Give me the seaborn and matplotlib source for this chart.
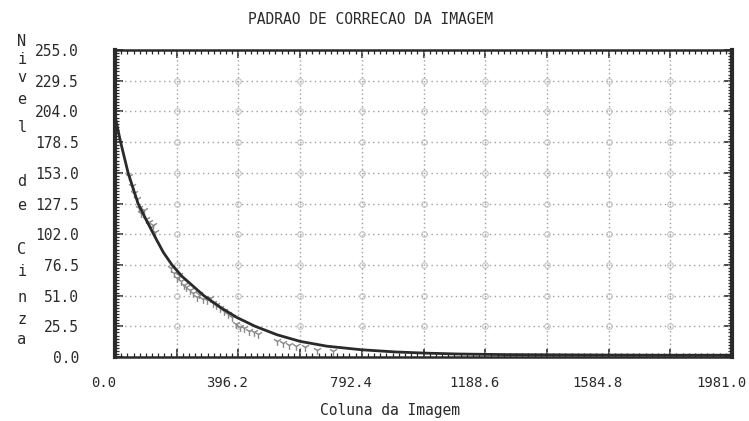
import numpy as np
import pandas as pd
import matplotlib
matplotlib.use("Agg")
import matplotlib.pyplot as plt
import matplotlib.transforms as mtransforms
from matplotlib.ticker import MultipleLocator, FixedLocator, FixedFormatter
import seaborn as sns

# Fitted correction curve (column -> grey level)
curve_x = [0, 18, 42, 74, 100, 128, 155, 183, 215, 250, 285, 340, 390, 450,
           520, 594, 680, 792, 900, 1000, 1100, 1250, 1500, 1750, 1981]
curve_y = [200, 178.5, 153, 127.5, 114, 100, 87, 76.5, 67, 59, 51, 41, 33, 25.5,
           18.5, 13, 9, 6, 4.2, 3.2, 2.5, 2.0, 1.7, 1.5, 1.5]

# Measured samples along the image columns
sample_x = [45, 55, 62, 70, 78, 85, 92, 100, 108, 115, 122, 130,
            180, 190, 198, 205, 212, 220, 228, 240, 250, 262, 270, 282, 295,
            305, 315, 325, 338, 350, 362, 375,
            390, 402, 415, 430, 445, 460,
            520, 540, 560, 580, 610, 650, 700]
sample_y = [150, 142, 136, 131, 124, 120, 122, 115, 112, 108, 110, 104,
            74, 70, 66, 68, 63, 60, 58, 56, 53, 50, 52, 48, 47,
            49, 45, 43, 41, 38, 36, 33,
            27, 25, 24, 22, 21, 19,
            13, 12, 10, 9, 8, 6, 5]

x_ticks = [0.0, 396.2, 792.4, 1188.6, 1584.8, 1981.0]
y_ticks = [0.0, 25.5, 51.0, 76.5, 102.0, 127.5, 153.0, 178.5, 204.0, 229.5, 255.0]
x_tick_labels = ["0.0", "396.2", "792.4", "1188.6", "1584.8", "1981.0"]
y_tick_labels = ["0.0", "25.5", "51.0", "76.5", "102.0", "127.5",
                 "153.0", "178.5", "204.0", "229.5", "255.0"]
ylabel_letters = ["N", "i", "v", "e", "l", "d", "e", "C", "i", "n", "z", "a"]
ylabel_rows = [42, 60, 78, 100, 127, 182, 205, 250, 272, 298, 320, 340]

sns.set_style("white")
plt.rcParams["font.family"] = ["DejaVu Sans Mono"]
ink = "#2a2a2a"

W, H = 749, 421
fig = plt.figure(figsize=(W / 100, H / 100), dpi=100)
ax = fig.add_axes([115 / W, (H - 357) / H, (732 - 115) / W, (357 - 50) / H])

curve = pd.DataFrame({"coluna": curve_x, "nivel": curve_y})
samples = pd.DataFrame({"coluna": sample_x, "nivel": sample_y})

ax.set_xlim(0, 1981.0)
ax.set_ylim(0, 255.0)

# Grid: dotted lines every half label step, with small rings at the crossings
gx = np.arange(11) * 198.1
gy = np.array(y_ticks)
for v in gx[1:-1]:
    ax.axvline(v, color="#a0a0a0", lw=1.0, ls=(0, (1, 2)), zorder=1)
for v in gy[1:-1]:
    ax.axhline(v, color="#a0a0a0", lw=1.0, ls=(0, (1, 2.5)), zorder=1)
GX, GY = np.meshgrid(gx[1:-1], gy[1:-1])
ax.plot(GX.ravel(), GY.ravel(), ls="none", marker="o", ms=4, mfc="none",
        mec="#c4c4c4", mew=0.8, zorder=1)

sns.scatterplot(data=samples, x="coluna", y="nivel", ax=ax, marker="1", s=40,
                color="#8a8a8a", linewidth=1.0, zorder=2, legend=False)
sns.lineplot(data=curve, x="coluna", y="nivel", ax=ax, color=ink, lw=2.0,
             zorder=3, legend=False)

ax.set_xlabel("")
ax.set_ylabel("")

# Ticks: dense inward marks on all four sides
ax.xaxis.set_major_locator(FixedLocator(list(gx)))
ax.xaxis.set_major_formatter(FixedFormatter(
    [x_tick_labels[i // 2] if i % 2 == 0 else "" for i in range(len(gx))]))
ax.xaxis.set_minor_locator(MultipleLocator(1981.0 / 100))
ax.yaxis.set_major_locator(FixedLocator(y_ticks))
ax.yaxis.set_major_formatter(FixedFormatter(y_tick_labels))
ax.yaxis.set_minor_locator(MultipleLocator(2.55))
ax.tick_params(axis="both", which="both", direction="in", top=True, right=True,
               bottom=True, left=True, color=ink)
ax.tick_params(axis="both", which="major", length=6, width=1.2)
ax.tick_params(axis="both", which="minor", length=3, width=0.9)
ax.tick_params(axis="x", which="major", pad=14, labelsize=10, labelcolor=ink)
ax.tick_params(axis="y", which="major", pad=26, labelsize=10.5, labelcolor=ink)

# Column labels sit slightly left of their tick
shift = mtransforms.ScaledTranslation(-11 / 100, 0, fig.dpi_scale_trans)
for lab in ax.get_xticklabels():
    lab.set_transform(lab.get_transform() + shift)

for side, lw in {"left": 3.0, "right": 3.0, "top": 1.8, "bottom": 1.8}.items():
    ax.spines[side].set_visible(True)
    ax.spines[side].set_color(ink)
    ax.spines[side].set_linewidth(lw)

fig.text(370 / W, 1 - 20 / H, "PADRAO DE CORRECAO DA IMAGEM", ha="center",
         va="center", fontsize=10.5, color=ink)
fig.text(390 / W, 1 - 410 / H, "Coluna da Imagem", ha="center", va="center",
         fontsize=10.5, color=ink)
for ch, row in zip(ylabel_letters, ylabel_rows):
    fig.text(22 / W, 1 - row / H, ch, ha="center", va="center", fontsize=11,
             color=ink)

fig.savefig("out.png", dpi=100)
